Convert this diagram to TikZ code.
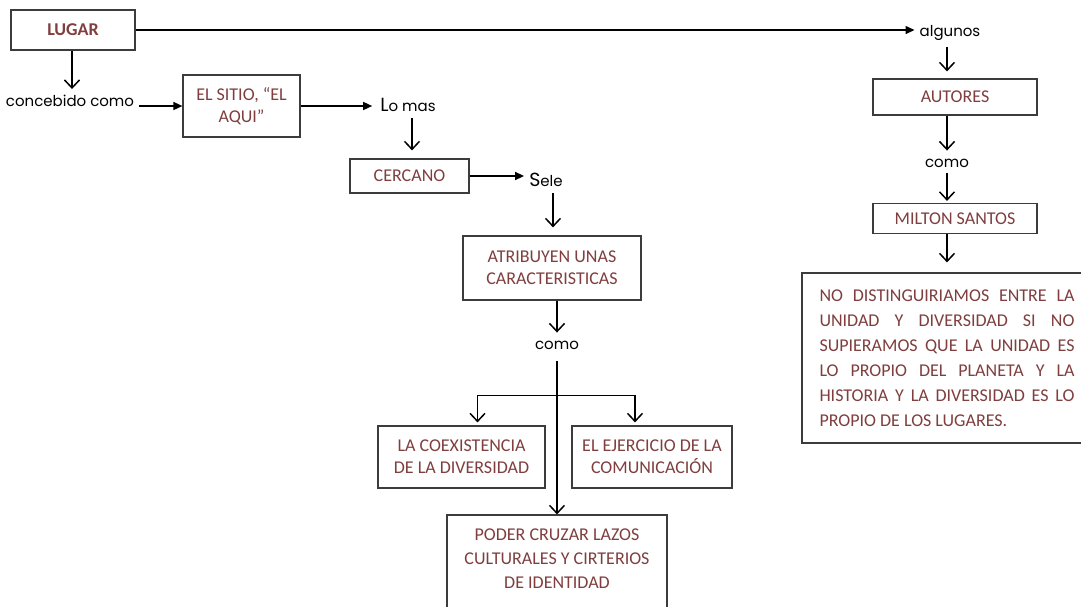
\documentclass[tikz,border=0pt]{standalone}
\usepackage{fontspec}
\setmainfont{Carlito}
\newfontfamily\handfont{Poppins}
\usetikzlibrary{arrows.meta}
\definecolor{boxtext}{RGB}{128,62,62}
\definecolor{boxline}{RGB}{60,60,60}

\begin{document}
\begin{tikzpicture}[x=1pt,y=-1pt,
  box/.style={draw=boxline, line width=1.2pt, rectangle, inner sep=0pt,
    align=center, text=boxtext, font=\fontsize{18}{22}\selectfont},
  word/.style={inner sep=0pt, font=\handfont\fontsize{15}{18}\selectfont},
  flow/.style={line width=1.5pt, -{Triangle[length=9pt,width=8pt]}},
  drop/.style={line width=1.5pt, -{Straight Barb[length=8pt,width=15pt,line width=1.5pt]}},
]
\clip (0,0) rectangle (1081,606);
\fill[white] (0,0) rectangle (1081,606);

% left branch
\node[box, minimum width=124pt, minimum height=40pt] (lugar) at (73,30) {\textbf{LUGAR}};
\node[word] (concebido) at (70,101) {concebido como};
\node[box, minimum width=117pt, minimum height=62pt] (sitio) at (241.5,106) {EL SITIO, “EL\\AQUI”};
\node[word] (lomas) at (408,105) {{\fontsize{19}{19}\selectfont L}o mas};
\node[box, minimum width=119pt, minimum height=34pt] (cercano) at (409.5,176) {CERCANO};
\node[word] (sele) at (546,180) {{\fontsize{19}{19}\selectfont S}ele};
\node[box, minimum width=178pt, minimum height=64pt] (atrib) at (552,268) {ATRIBUYEN UNAS\\CARACTERISTICAS};
\node[word] (como1) at (557,345) {como};
\node[box, minimum width=167pt, minimum height=62pt] (coex) at (461.5,457) {LA COEXISTENCIA\\DE LA DIVERSIDAD};
\node[box, minimum width=160pt, minimum height=62pt] (ejer) at (652,457) {EL EJERCICIO DE LA\\COMUNICACIÓN};
\node[box, minimum width=220pt, minimum height=100pt, font=\fontsize{18}{24}\selectfont] (poder) at (557,565)
  {PODER CRUZAR LAZOS\\CULTURALES Y CIRTERIOS\\DE IDENTIDAD\\[-12pt]\mbox{}};

% right branch
\node[word] (algunos) at (950,33) {algunos};
\node[box, minimum width=164pt, minimum height=36pt] (autores) at (955,97) {AUTORES};
\node[word] (como2) at (947,163) {como};
\node[box, minimum width=164pt, minimum height=30pt] (milton) at (955,218.5) {MILTON SANTOS};
\node[box, minimum width=290pt, minimum height=170pt, align=left,
  font=\fontsize{18}{25}\selectfont] (santos) at (947,358)
  {\makebox[255pt][s]{NO DISTINGUIRIAMOS ENTRE LA}\\
   \makebox[255pt][s]{UNIDAD Y DIVERSIDAD SI NO}\\
   \makebox[255pt][s]{SUPIERAMOS QUE LA UNIDAD ES}\\
   \makebox[255pt][s]{LO PROPIO DEL PLANETA Y LA}\\
   \makebox[255pt][s]{HISTORIA Y LA DIVERSIDAD ES LO}\\
   \makebox[255pt][l]{PROPIO DE LOS LUGARES.}};

% connectors, left branch
\draw[flow, shorten >=5pt] (lugar.east) -- (algunos.west |- lugar.east);
\draw[drop, shorten >=6pt] ([xshift=-1pt]lugar.south) -- ([xshift=-1pt]lugar.south |- concebido.north);
\draw[flow, shorten <=5pt] (concebido.east |- sitio.west) -- (sitio.west);
\draw[flow, shorten >=8pt] (sitio.east) -- (sitio.east -| lomas.west);
\draw[drop, shorten <=6pt, shorten >=8pt] ([xshift=4pt]lomas.south) -- ([xshift=4pt]lomas.south |- cercano.north);
\draw[flow, shorten >=5pt] (cercano.east) -- (cercano.east -| sele.west);
\draw[drop, shorten <=6pt, shorten >=8pt] ([xshift=7pt]sele.south) -- ([xshift=7pt]sele.south |- atrib.north);
\draw[drop, shorten >=8pt] ([xshift=5pt]atrib.south) -- ([xshift=5pt]atrib.south |- como1.north);
\coordinate (fork) at ([yshift=-46pt]como1.south);
\draw[drop, shorten <=12pt] (como1.south) -- (poder.north);
\draw[drop, shorten >=3pt] (fork) -| ([xshift=16pt]coex.north);
\draw[drop, shorten >=3pt] (fork) -| ([xshift=-17pt]ejer.north);

% connectors, right branch
\draw[drop, shorten <=6pt, shorten >=7pt] ([xshift=-3pt]algunos.south) -- ([xshift=-3pt]algunos.south |- autores.north);
\draw[drop, shorten >=8pt] ([xshift=-8pt]autores.south) -- ([xshift=-8pt]autores.south |- como2.north);
\draw[drop, shorten <=6pt, shorten >=2pt] (como2.south) -- (como2.south |- milton.north);
\draw[drop, shorten >=10pt] ([xshift=-8pt]milton.south) -- ([xshift=-8pt]milton.south |- santos.north);
\end{tikzpicture}
\end{document}
